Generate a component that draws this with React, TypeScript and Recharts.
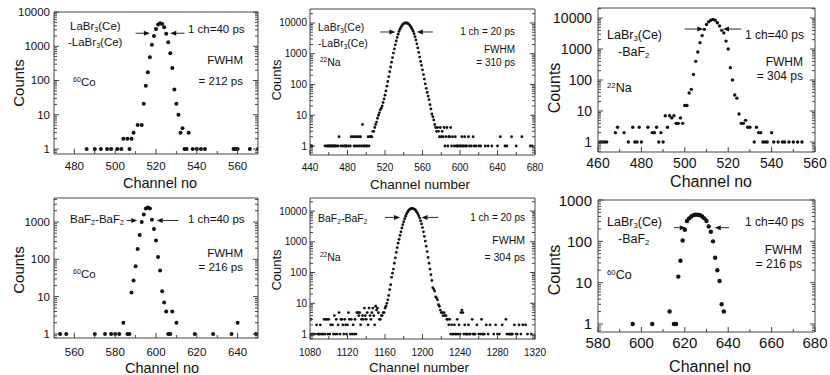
import React from 'react';
import { ScatterChart, Scatter, XAxis, YAxis, ReferenceLine } from 'recharts';

const FONT = '"Liberation Sans", Arial, Helvetica, sans-serif';
const INK = '#111';
const FRAME = '#444';

type Pt = [number, number];
type Arrow = [number, number, number]; // from channel, to channel, count level

// ---- top-left: LaBr3(Ce)-LaBr3(Ce), 60Co, 1 ch = 40 ps
const p1Points: Pt[] = [
  [486, 1], [490, 1], [493, 1], [496, 1], [498, 1], [501, 1], [503, 1], [504, 2], [506, 2], [507, 1],
  [508, 2], [509, 3], [511, 5], [513, 5], [514, 21], [515, 70], [516, 175], [517, 480], [518, 1100],
  [519, 2000], [520, 3200], [521, 4300], [522, 4700], [523, 4500], [524, 3600], [525, 2300], [526, 1300],
  [527, 620], [528, 230], [529, 55], [530, 21], [531, 10], [532, 3], [533, 4], [534, 1], [535, 1],
  [536, 3], [538, 1], [540, 1], [542, 1], [544, 1], [558, 1], [559, 1], [560, 1], [566, 1], [570, 1],
];
const p1XMajor = [480, 500, 520, 540, 560];
const p1XMinor = [490, 510, 530, 550];
const p1Arrows: Arrow[] = [[510, 517, 2400], [534, 527, 2400]];

// ---- top-middle: LaBr3(Ce)-LaBr3(Ce), 22Na, 1 ch = 20 ps
const p2Points: Pt[] = [
  [440, 1], [441, 1], [442, 1], [456, 1], [458, 1], [459, 1], [460, 1], [461, 1], [462, 1], [463, 1],
  [464, 1], [465, 1], [466, 1], [467, 1], [468, 1], [470, 1], [471, 2], [473, 1], [475, 1], [477, 1],
  [478, 1], [479, 1], [481, 1], [483, 1], [484, 2], [486, 2], [487, 1], [488, 2], [489, 1], [490, 2],
  [491, 1], [492, 2], [493, 1], [494, 2], [495, 1], [496, 5], [497, 1], [498, 1], [500, 1], [501, 1],
  [502, 2], [503, 1], [504, 2],
  [505, 2], [506, 2], [507, 3], [508, 3], [509, 4], [510, 5], [511, 6], [512, 8], [513, 10], [514, 12],
  [515, 15], [516, 17], [517, 20], [518, 26], [519, 34], [520, 45], [521, 62], [522, 88], [523, 125],
  [524, 180], [525, 260], [526, 370], [527, 530], [528, 750], [529, 1050], [530, 1450], [531, 1950],
  [532, 2600], [533, 3400], [534, 4300], [535, 5300], [536, 6300], [537, 7300], [538, 8200], [539, 9000],
  [540, 9600], [541, 9900], [542, 10100], [543, 10000], [544, 9800], [545, 9300], [546, 8700], [547, 8000],
  [548, 7200], [549, 6300], [550, 5400], [551, 4500], [552, 3600], [553, 2800], [554, 2100], [555, 1550],
  [556, 1100], [557, 780], [558, 560], [559, 420], [560, 300], [561, 210], [562, 150], [563, 105],
  [564, 75], [565, 55], [566, 42], [567, 32], [568, 22], [569, 16], [570, 11], [571, 9], [572, 7],
  [573, 5], [574, 4], [575, 3], [576, 4], [577, 3],
  [578, 2], [579, 4], [580, 2], [581, 3], [582, 2], [583, 4], [584, 1], [585, 2], [586, 4], [587, 1],
  [588, 2], [589, 2], [590, 4], [591, 1], [592, 2], [594, 1], [595, 2], [596, 1], [597, 1], [598, 1],
  [600, 1], [601, 1], [602, 2], [603, 1], [604, 1], [605, 2], [606, 1], [607, 1], [609, 2], [610, 1],
  [612, 1], [614, 2], [615, 1], [617, 1], [620, 1], [622, 1], [627, 1], [630, 1], [634, 1], [640, 1],
  [643, 2], [648, 1], [650, 1], [655, 2], [660, 1], [666, 2], [675, 1], [677, 1],
];
const p2XMajor = [440, 480, 520, 560, 600, 640, 680];
const p2XMinor = [460, 500, 540, 580, 620, 660];
const p2Arrows: Arrow[] = [[515, 531, 5100], [571, 554, 5100]];

// ---- top-right: LaBr3(Ce)-BaF2, 22Na, 1 ch = 40 ps
const p3Points: Pt[] = [
  [461, 1], [462, 1], [463, 1], [464, 1], [468, 2], [469, 3], [472, 2], [474, 1], [476, 3], [477, 1],
  [478, 1], [479, 3], [480, 1], [483, 3], [485, 2], [486, 2], [487, 3], [488, 1], [489, 2], [490, 1],
  [491, 7], [492, 3], [493, 7], [494, 6], [495, 7], [496, 4], [497, 4], [498, 6], [499, 4], [500, 15],
  [501, 15], [502, 38], [503, 50], [504, 150], [505, 400], [506, 800], [507, 1600], [508, 2700],
  [509, 4300], [510, 6200], [511, 7500], [512, 8500], [513, 9000], [514, 8500], [515, 7000], [516, 5500],
  [517, 4000], [518, 3300], [519, 1800], [520, 1000], [521, 250], [522, 100], [523, 33], [524, 26],
  [525, 8], [526, 4], [527, 4], [528, 5], [529, 3], [530, 3], [532, 1], [533, 3], [534, 2], [535, 2],
  [536, 1], [537, 1], [538, 1], [540, 2], [541, 1], [543, 1], [545, 1], [546, 1], [548, 1], [550, 1],
  [552, 1], [554, 1],
];
const p3XMajor = [460, 480, 500, 520, 540, 560];
const p3XMinor = [470, 490, 510, 530, 550];
const p3Arrows: Arrow[] = [[500, 508.5, 4400], [526, 517.6, 4400]];

// ---- bottom-left: BaF2-BaF2, 60Co, 1 ch = 40 ps
const p4Points: Pt[] = [
  [553, 1], [556, 1], [570, 1], [575, 1], [578, 1], [580, 1], [582, 1], [584, 2], [586, 1], [587, 1],
  [588, 13], [589, 27], [590, 65], [591, 190], [592, 450], [593, 1000], [594, 1600], [595, 2300],
  [596, 2450], [597, 2300], [598, 1150], [599, 650], [600, 320], [601, 115], [602, 50], [603, 14],
  [604, 7], [605, 4], [606, 1], [607, 1], [608, 4], [610, 2], [619, 1], [628, 1], [637, 1], [640, 2],
  [649, 1],
];
const p4XMajor = [560, 580, 600, 620, 640];
const p4XMinor = [570, 590, 610, 630];
const p4Arrows: Arrow[] = [[585.6, 590.8, 1100], [611, 600.3, 1100]];

// ---- bottom-middle: BaF2-BaF2, 22Na, 1 ch = 20 ps
const p5Points: Pt[] = [
  [1080, 1], [1081, 3], [1082, 1], [1083, 1], [1084, 1], [1085, 1], [1087, 2], [1088, 1], [1089, 1],
  [1090, 1], [1091, 2], [1092, 1], [1093, 1], [1094, 1], [1095, 3], [1096, 1], [1097, 3], [1098, 3],
  [1099, 1], [1100, 3], [1101, 1], [1102, 2], [1104, 2], [1105, 1], [1106, 4], [1107, 1], [1108, 3],
  [1109, 1], [1110, 2], [1111, 5], [1112, 1], [1113, 3], [1114, 3], [1115, 2], [1116, 1], [1117, 3],
  [1118, 2], [1119, 1], [1120, 2], [1121, 5], [1122, 3], [1123, 1], [1124, 3], [1125, 1], [1126, 2],
  [1127, 1], [1128, 3], [1129, 1], [1130, 5], [1131, 5], [1132, 4], [1133, 5], [1134, 2], [1135, 3],
  [1136, 4], [1137, 3], [1138, 7], [1139, 4], [1140, 3], [1141, 5], [1142, 2], [1143, 7], [1144, 4],
  [1145, 3], [1146, 5], [1147, 7], [1148, 4], [1149, 2], [1150, 8], [1151, 6], [1152, 7], [1153, 5],
  [1154, 3], [1155, 3], [1156, 4], [1157, 4], [1158, 5], [1159, 5], [1160, 7], [1161, 8], [1162, 10],
  [1163, 13], [1164, 18], [1165, 28], [1166, 40], [1167, 70], [1168, 95], [1169, 130], [1170, 200],
  [1171, 300], [1172, 450], [1173, 650], [1174, 900], [1175, 1200], [1176, 1600], [1177, 2100],
  [1178, 2800], [1179, 3600], [1180, 4500], [1181, 5600], [1182, 6800], [1183, 8000], [1184, 9200],
  [1185, 10200], [1186, 11000], [1187, 11700], [1188, 12000], [1189, 12100], [1190, 12000],
  [1191, 11600], [1192, 11000], [1193, 10200], [1194, 9200], [1195, 8100], [1196, 7000], [1197, 5900],
  [1198, 4800], [1199, 3800], [1200, 2900], [1201, 2100], [1202, 1500], [1203, 1050], [1204, 720],
  [1205, 480], [1206, 310], [1207, 200], [1208, 130], [1209, 85], [1210, 55], [1211, 32], [1212, 29],
  [1213, 25], [1214, 16], [1215, 15], [1216, 13], [1217, 9], [1218, 8], [1219, 6], [1220, 5], [1221, 5],
  [1222, 4], [1223, 5], [1224, 4], [1225, 4], [1226, 3],
  [1227, 3], [1228, 2], [1229, 3], [1230, 1], [1231, 2], [1232, 1], [1233, 1], [1234, 2], [1235, 1],
  [1236, 1], [1237, 3], [1238, 1], [1239, 2], [1240, 1], [1241, 5], [1242, 6], [1243, 5], [1244, 1],
  [1245, 2], [1246, 1], [1247, 1], [1248, 1], [1249, 2], [1250, 1], [1251, 1], [1253, 3], [1254, 1],
  [1255, 1], [1256, 1], [1258, 2], [1260, 1], [1262, 1], [1263, 3], [1264, 1], [1265, 1], [1266, 1],
  [1268, 2], [1270, 1], [1272, 2], [1276, 1], [1278, 2], [1280, 1], [1282, 1], [1285, 2], [1289, 3],
  [1290, 1], [1292, 1], [1293, 1], [1294, 1], [1295, 1], [1296, 1], [1298, 2], [1300, 1], [1301, 1],
  [1303, 2], [1305, 1], [1307, 2], [1310, 2], [1312, 1], [1316, 1],
];
const p5XMajor = [1080, 1120, 1160, 1200, 1240, 1280, 1320];
const p5XMinor = [1100, 1140, 1180, 1220, 1260, 1300];
const p5Arrows: Arrow[] = [[1160, 1176, 6200], [1217, 1199, 6200]];

// ---- bottom-right: LaBr3(Ce)-BaF2, 60Co, 1 ch = 40 ps
const p6Points: Pt[] = [
  [596, 1], [605, 1], [613, 2], [615, 1], [616, 1], [617, 14], [618, 34], [619, 105], [620, 190],
  [621, 310], [622, 360], [623, 400], [624, 430], [625, 440], [626, 440], [627, 430], [628, 400],
  [629, 360], [630, 310], [631, 230], [632, 170], [633, 100], [634, 40], [635, 20], [636, 11],
  [637, 3], [638, 2],
];
const p6XMajor = [580, 600, 620, 640, 660, 680];
const p6XMinor = [590, 610, 630, 650, 670];
const p6Arrows: Arrow[] = [[615, 620.4, 214], [640.4, 633.8, 214]];

// log axis tick positions: 1..9 x 10^k inside the domain
const logTicks = (lo: number, hi: number) => {
  const out: number[] = [];
  for (let e = Math.floor(Math.log10(lo)); e <= Math.ceil(Math.log10(hi)); e++) {
    for (let m = 1; m <= 9; m++) {
      const v = +(m * Math.pow(10, e)).toPrecision(6);
      if (v >= lo && v <= hi) out.push(v);
    }
  }
  return out;
};
const decades = (lo: number, hi: number) => logTicks(lo, hi).filter((v) => /^10*$/.test(String(v)));

type Side = 'bottom' | 'top' | 'left' | 'right';

const makeTick = (side: Side, majors: number[], size: number, gap: number) => (props: any) => {
  const { x, y, payload } = props;
  const v = payload.value as number;
  const major = majors.includes(v);
  const len = major ? 5 : 3;
  const dx = side === 'left' ? len : side === 'right' ? -len : 0;
  const dy = side === 'bottom' ? -len : side === 'top' ? len : 0;
  return (
    <g>
      <line x1={x} y1={y} x2={x + dx} y2={y + dy} stroke={FRAME} strokeWidth={1} />
      {major && side === 'bottom' && (
        <text x={x} y={y + gap} textAnchor="middle" dominantBaseline="central" fontSize={size} fontFamily={FONT} fill={INK}>
          {v}
        </text>
      )}
      {major && side === 'left' && (
        <text x={x - gap} y={y} textAnchor="end" dominantBaseline="central" fontSize={size} fontFamily={FONT} fill={INK}>
          {v}
        </text>
      )}
    </g>
  );
};

const arrowShape = (p: any) => {
  const { x1, y1, x2, y2 } = p;
  const dir = Math.sign(x2 - x1) || 1;
  const h = 6;
  const w = 2.5;
  return (
    <g>
      <line x1={x1} y1={y1} x2={x2 - dir * h} y2={y2} stroke={INK} strokeWidth={0.9} />
      <polygon points={`${x2},${y2} ${x2 - dir * h},${y2 - w} ${x2 - dir * h},${y2 + w}`} fill={INK} />
    </g>
  );
};

interface PanelProps {
  box: [number, number, number, number];
  points: Pt[];
  xDomain: [number, number];
  xMajor: number[];
  xMinor: number[];
  yDomain: [number, number];
  arrows: Arrow[];
  font: number;
  xGap: number;
  yGap: number;
  dot: number;
}

const YW = 60;
const XH = 34;
const MR = 20;
const MT = 12;

const Panel: React.FC<PanelProps> = ({ box, points, xDomain, xMajor, xMinor, yDomain, arrows, font, xGap, yGap, dot }) => {
  const [L, T, R, B] = box;
  const data = points.map(([x, y]) => ({ x, y }));
  const xTicks = [...xMajor, ...xMinor].sort((a, b) => a - b);
  const yTicks = logTicks(yDomain[0], yDomain[1]);
  const yMajor = decades(yDomain[0], yDomain[1]);
  const common = { stroke: FRAME };
  return (
    <div style={{ position: 'absolute', left: L - YW, top: T - MT - 1 }}>
      <ScatterChart width={R - L + YW + 1 + MR} height={B - T + MT + 1 + XH} margin={{ top: MT, right: MR, bottom: 0, left: 0 }}>
        <XAxis xAxisId="b" type="number" dataKey="x" domain={xDomain} ticks={xTicks} interval={0} allowDataOverflow
          height={XH} tickSize={0} tickMargin={0} tickLine={false} axisLine={common} tick={makeTick('bottom', xMajor, font, xGap)} />
        <XAxis xAxisId="t" orientation="top" type="number" domain={xDomain} ticks={xTicks} interval={0} allowDataOverflow
          height={1} tickSize={0} tickMargin={0} tickLine={false} axisLine={common} tick={makeTick('top', xMajor, font, 0)} />
        <YAxis yAxisId="l" type="number" dataKey="y" scale="log" domain={yDomain} ticks={yTicks} interval={0} allowDataOverflow
          width={YW} tickSize={0} tickMargin={0} tickLine={false} axisLine={common} tick={makeTick('left', yMajor, font, yGap)} />
        <YAxis yAxisId="r" orientation="right" type="number" scale="log" domain={yDomain} ticks={yTicks} interval={0} allowDataOverflow
          width={1} tickSize={0} tickMargin={0} tickLine={false} axisLine={common} tick={makeTick('right', yMajor, font, 0)} />
        <Scatter xAxisId="b" yAxisId="l" data={data} isAnimationActive={false}
          shape={(p: any) => <circle cx={p.cx} cy={p.cy} r={dot} fill={INK} />} />
        {arrows.map(([from, to, level], i) => (
          <ReferenceLine key={i} xAxisId="b" yAxisId="l" ifOverflow="visible"
            segment={[{ x: from, y: level }, { x: to, y: level }]} shape={arrowShape} />
        ))}
      </ScatterChart>
    </div>
  );
};

const Txt: React.FC<{ x: number; y: number; size: number; right?: boolean; center?: boolean; rotate?: boolean; children: React.ReactNode }> = ({
  x, y, size, right, center, rotate, children,
}) => {
  let transform = 'translateY(-50%)';
  if (right) transform = 'translate(-100%, -50%)';
  if (center) transform = 'translate(-50%, -50%)';
  if (rotate) transform = 'translate(-50%, -50%) rotate(-90deg)';
  return (
    <div style={{ position: 'absolute', left: x, top: y, transform, fontSize: size, lineHeight: 1, whiteSpace: 'nowrap', color: INK, fontFamily: FONT }}>
      {children}
    </div>
  );
};

const Sub: React.FC<{ children: React.ReactNode }> = ({ children }) => (
  <span style={{ fontSize: '0.62em', verticalAlign: '-0.3em', lineHeight: 0 }}>{children}</span>
);
const Sup: React.FC<{ children: React.ReactNode }> = ({ children }) => (
  <span style={{ fontSize: '0.62em', verticalAlign: '0.55em', lineHeight: 0 }}>{children}</span>
);

export default function App() {
  return (
    <div style={{ position: 'relative', width: 830, height: 375, background: '#fff', overflow: 'hidden', fontFamily: FONT }}>
      <style>{'body{margin:0}'}</style>

      <Panel box={[54, 12, 258, 154]} points={p1Points} xDomain={[470, 570]} xMajor={p1XMajor} xMinor={p1XMinor}
        yDomain={[0.714, 10000]} arrows={p1Arrows} font={11.5} xGap={12} yGap={4} dot={2} />
      <Panel box={[310, 9, 535, 155]} points={p2Points} xDomain={[440, 680]} xMajor={p2XMajor} xMinor={p2XMinor}
        yDomain={[0.51, 28500]} arrows={p2Arrows} font={10} xGap={12} yGap={3} dot={1.4} />
      <Panel box={[598, 8, 815, 152]} points={p3Points} xDomain={[460, 560]} xMajor={p3XMajor} xMinor={p3XMinor}
        yDomain={[0.476, 21000]} arrows={p3Arrows} font={14} xGap={11} yGap={6} dot={1.7} />
      <Panel box={[54, 198, 258, 338]} points={p4Points} xDomain={[550, 650]} xMajor={p4XMajor} xMinor={p4XMinor}
        yDomain={[0.78, 4400]} arrows={p4Arrows} font={11.5} xGap={14} yGap={4} dot={2} />
      <Panel box={[310, 198, 535, 339]} points={p5Points} xDomain={[1080, 1320]} xMajor={p5XMajor} xMinor={p5XMinor}
        yDomain={[0.69, 26500]} arrows={p5Arrows} font={10} xGap={13} yGap={3} dot={1.4} />
      <Panel box={[598, 200, 815, 332]} points={p6Points} xDomain={[580, 680]} xMajor={p6XMajor} xMinor={p6XMinor}
        yDomain={[0.64, 1000]} arrows={p6Arrows} font={15} xGap={10} yGap={6} dot={2.2} />

      {/* axis titles */}
      <Txt x={18} y={83} size={15} rotate>Counts</Txt>
      <Txt x={276} y={80} size={13} rotate>Counts</Txt>
      <Txt x={555} y={88} size={16} rotate>Counts</Txt>
      <Txt x={18} y={270} size={15} rotate>Counts</Txt>
      <Txt x={276} y={270} size={13} rotate>Counts</Txt>
      <Txt x={555} y={270} size={16} rotate>Counts</Txt>
      <Txt x={160} y={183} size={14.5} center>Channel no</Txt>
      <Txt x={420} y={185} size={13.5} center>Channel number</Txt>
      <Txt x={711} y={182} size={16} center>Channel no</Txt>
      <Txt x={162} y={368} size={14.5} center>Channel no</Txt>
      <Txt x={419} y={368} size={13.5} center>Channel number</Txt>
      <Txt x={710} y={367} size={16} center>Channel no</Txt>

      {/* top-left notes */}
      <Txt x={70} y={27} size={11.5}>LaBr<Sub>3</Sub>(Ce)</Txt>
      <Txt x={68} y={43} size={11.5}>-LaBr<Sub>3</Sub>(Ce)</Txt>
      <Txt x={73} y={83} size={11.5}><Sup>60</Sup>Co</Txt>
      <Txt x={188} y={30} size={11.5}>1 ch=40 ps</Txt>
      <Txt x={243} y={61} size={11.5} right>FWHM</Txt>
      <Txt x={243} y={82} size={11.5} right>= 212 ps</Txt>

      {/* top-middle notes */}
      <Txt x={318} y={27} size={10.5}>LaBr<Sub>3</Sub>(Ce)</Txt>
      <Txt x={318} y={43} size={10.5}>-LaBr<Sub>3</Sub>(Ce)</Txt>
      <Txt x={320} y={62} size={10.5}><Sup>22</Sup>Na</Txt>
      <Txt x={515} y={32} size={10} right>1 ch = 20 ps</Txt>
      <Txt x={515} y={50} size={10} right>FWHM</Txt>
      <Txt x={515} y={63} size={10} right>= 310 ps</Txt>

      {/* top-right notes */}
      <Txt x={607} y={35} size={12.5}>LaBr<Sub>3</Sub>(Ce)</Txt>
      <Txt x={618} y={52} size={12.5}>-BaF<Sub>2</Sub></Txt>
      <Txt x={607} y={88} size={12.5}><Sup>22</Sup>Na</Txt>
      <Txt x={745} y={35} size={12}>1 ch=40 ps</Txt>
      <Txt x={803} y={62} size={12} right>FWHM</Txt>
      <Txt x={803} y={76} size={12} right>= 304 ps</Txt>

      {/* bottom-left notes */}
      <Txt x={70} y={220} size={11.5}>BaF<Sub>2</Sub>-BaF<Sub>2</Sub></Txt>
      <Txt x={73} y={275} size={11.5}><Sup>60</Sup>Co</Txt>
      <Txt x={188} y={220} size={11.5}>1 ch=40 ps</Txt>
      <Txt x={243} y={254} size={11.5} right>FWHM</Txt>
      <Txt x={243} y={268} size={11.5} right>= 216 ps</Txt>

      {/* bottom-middle notes */}
      <Txt x={318} y={218} size={10.5}>BaF<Sub>2</Sub>-BaF<Sub>2</Sub></Txt>
      <Txt x={320} y={257} size={10.5}><Sup>22</Sup>Na</Txt>
      <Txt x={525} y={218} size={10} right>1 ch = 20 ps</Txt>
      <Txt x={525} y={240} size={10.5} right>FWHM</Txt>
      <Txt x={525} y={257} size={10.5} right>= 304 ps</Txt>

      {/* bottom-right notes */}
      <Txt x={607} y={222} size={12.5}>LaBr<Sub>3</Sub>(Ce)</Txt>
      <Txt x={618} y={239} size={12.5}>-BaF<Sub>2</Sub></Txt>
      <Txt x={607} y={275} size={12.5}><Sup>60</Sup>Co</Txt>
      <Txt x={745} y={222} size={12}>1 ch=40 ps</Txt>
      <Txt x={802} y={250} size={12} right>FWHM</Txt>
      <Txt x={802} y={264} size={12} right>= 216 ps</Txt>
    </div>
  );
}
